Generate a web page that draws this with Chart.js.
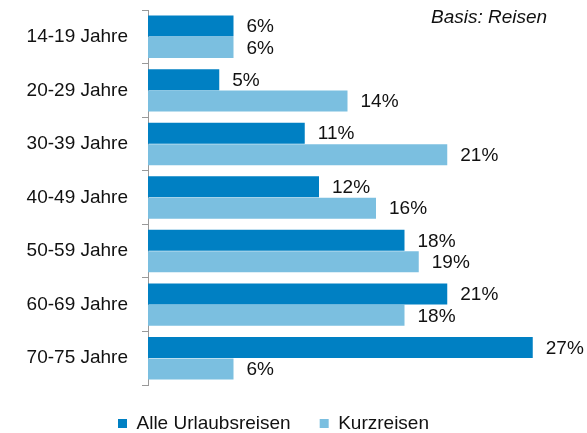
<!DOCTYPE html>
<html>
<head>
<meta charset="utf-8">
<script src="https://cdn.jsdelivr.net/npm/chart.js@4"></script>
<style>
  html, body { margin: 0; padding: 0; background: #fff; overflow: hidden; }
  #wrap { width: 587px; height: 443px; }
</style>
</head>
<body>
<div id="wrap"><canvas id="chart-travel"></canvas></div>
<script>
const labels = ['14-19 Jahre', '20-29 Jahre', '30-39 Jahre', '40-49 Jahre', '50-59 Jahre', '60-69 Jahre', '70-75 Jahre'];
const alleUrlaubsreisen = [6, 5, 11, 12, 18, 21, 27];
const kurzreisen = [6, 14, 21, 16, 19, 18, 6];

const FONT = '"Liberation Sans", Arial, sans-serif';

// writes the % value right of each bar
const valueLabels = {
    id: 'valueLabels',
    afterDatasetsDraw(chart) {
        const ctx = chart.ctx;
        ctx.save();
        ctx.font = '19px ' + FONT;
        ctx.fillStyle = '#111';
        ctx.textBaseline = 'middle';
        chart.data.datasets.forEach((ds, i) => {
            chart.getDatasetMeta(i).data.forEach((bar, j) => {
                ctx.fillText(ds.data[j] + '%', bar.x + 13, bar.y + 1);
            });
        });
        ctx.restore();
    }
};

const basisNote = {
    id: 'basisNote',
    afterDraw(chart) {
        const ctx = chart.ctx;
        ctx.save();
        ctx.font = 'italic 19px ' + FONT;
        ctx.fillStyle = '#111';
        ctx.textBaseline = 'middle';
        ctx.fillText('Basis: Reisen', 431, 18);
        ctx.restore();
    }
};

const data = {
    labels: labels,
    datasets: [{
        label: 'Alle Urlaubsreisen',
        data: alleUrlaubsreisen,
        backgroundColor: '#0080C3',
        categoryPercentage: 0.8,
        barPercentage: 0.98
    }, {
        label: 'Kurzreisen',
        data: kurzreisen,
        backgroundColor: '#7BBFE0',
        categoryPercentage: 0.8,
        barPercentage: 0.98
    }]
};

const config = {
    type: 'bar',
    data: data,
    options: {
        indexAxis: 'y',
        responsive: true,
        maintainAspectRatio: false,
        animation: false,
        layout: { padding: { top: 10, right: 40, left: 0, bottom: 0 } },
        scales: {
            x: {
                display: false,
                min: 0,
                max: 28
            },
            y: {
                afterFit(scale) {
                    scale.width = 148;
                    scale.paddingTop = 0;
                    scale.paddingBottom = 0;
                },
                grid: {
                    display: true,
                    drawOnChartArea: false,
                    offset: true,
                    tickLength: 6,
                    color: '#999'
                },
                border: { color: '#999', width: 1 },
                ticks: {
                    padding: 14,
                    color: '#111',
                    font: { family: FONT, size: 19 }
                }
            }
        },
        plugins: {
            legend: {
                position: 'bottom',
                labels: {
                    boxWidth: 9,
                    boxHeight: 9,
                    padding: 29,
                    color: '#111',
                    font: { family: FONT, size: 19 }
                }
            },
            tooltip: { enabled: false }
        }
    },
    plugins: [valueLabels, basisNote]
};

const myChart = new Chart(document.getElementById('chart-travel'), config);
</script>
</body>
</html>
